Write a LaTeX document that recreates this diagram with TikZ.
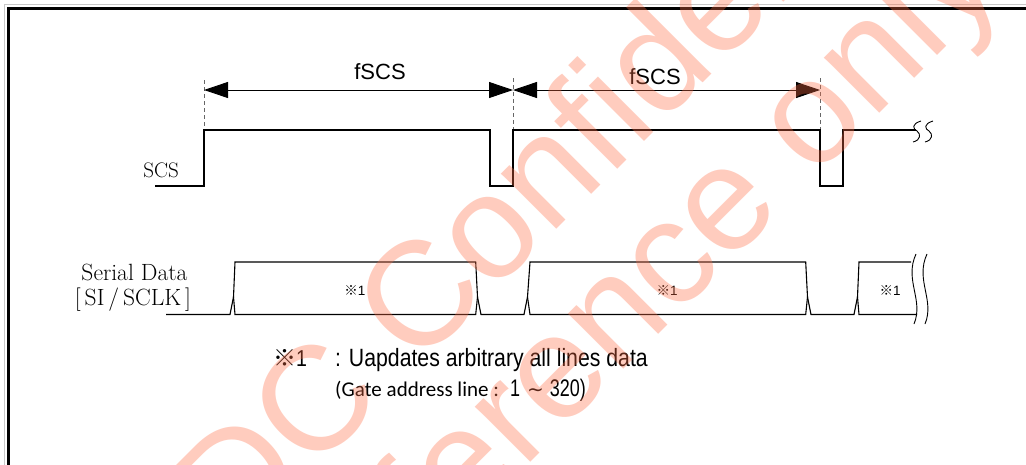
\documentclass[tikz,border=0pt]{standalone}
\usepackage{fontspec}
\usetikzlibrary{arrows.meta}
\newfontfamily\arialf{Liberation Sans}
\newfontfamily\carl{Carlito}
\newfontfamily\cjk{Noto Sans CJK JP}
\newfontfamily\djv{DejaVu Sans}
\definecolor{wmcol}{RGB}{255,110,70}
\definecolor{framegray}{RGB}{200,200,200}
\newcommand{\refmk}{{\cjk ※}{\arialf 1}}
\begin{document}
\begin{tikzpicture}[x=1pt,y=-1pt,
  wave/.style={line width=1.4pt, line join=miter},
  bus/.style={line width=1.1pt, line join=miter},
  guide/.style={black!60, line width=0.8pt, dash pattern=on 4pt off 3pt},
  dimline/.style={line width=0.9pt, {Triangle[length=24pt,width=16pt]}-{Triangle[length=24pt,width=16pt]}},
  brk/.style={line width=0.9pt},
  lbl/.style={inner sep=0pt},
  wm/.style={inner sep=0pt, rotate=45, anchor=base west, text=wmcol, opacity=0.35,
    font=\arialf\fontsize{148}{160}\selectfont}]
\useasboundingbox (0,0) rectangle (1026,464);
\clip (0,0) rectangle (1026,464);
\fill[white] (0,0) rectangle (1026,464);
% frame
\draw[framegray, line width=1pt] (4.5,470) -- (4.5,4.5) -- (1030,4.5);
\draw[line width=3.2pt] (8.5,470) -- (8.5,8.5) -- (1030,8.5);

% key time points
\coordinate (t0) at (204,90);
\coordinate (t1) at (513,90);
\coordinate (t2) at (820,90);

% guides
\draw[guide] (204,80) -- (204,130);
\draw[guide] (513,78) -- (513,130);
\draw[guide] (820,78) -- (820,130);

% dimension arrows
\draw[dimline] (t0) -- (t1);
\draw[dimline] (t1) -- (t2);
\node[lbl, font=\arialf\fontsize{22}{26}\selectfont] (f1) at (380,72) {fSCS};
\node[lbl, font=\arialf\fontsize{22}{26}\selectfont] (f2) at (655,77) {fSCS};

% SCS
\node[lbl, anchor=base east, font=\fontsize{21}{25}\selectfont] (scs) at (179,177) {SCS};
\draw[wave] (155,186) -- (204,186) -- (204,130) -- (490,130) -- (490,186) -- (513,186)
  -- (513,130) -- (820,130) -- (820,186) -- (843,186) -- (843,130) -- (916,130);
\draw[brk] (921,121) .. controls (911,124) and (913,129) .. (917,131) .. controls (921,134) and (921,140) .. (913,142);
\draw[brk] (933,121) .. controls (923,124) and (925,129) .. (929,131) .. controls (933,134) and (933,140) .. (925,142);

% Serial data labels
\node[lbl, anchor=base, font=\fontsize{23.5}{27}\selectfont] (sd1) at (134.5,280) {Serial Data};
\node[lbl, anchor=base, font=\fontsize{23.5}{27}\selectfont] (sd2) at (133,305) {[\,SI\,/\,SCLK\,]};

% bus
\draw[bus] (166,314.5) -- (230,314.5) -- (233.5,297) -- (235,262) -- (475.7,262) -- (477.5,297)
  -- (481,314.5) -- (524,314.5) -- (527.5,297) -- (530,262) -- (805.7,262) -- (807.5,297)
  -- (811,314.5) -- (854,314.5) -- (857.5,297) -- (859,262) -- (911,262);
\draw[bus] (233.5,297) -- (235,314.5) -- (475.7,314.5) -- (477.5,297);
\draw[bus] (527.5,297) -- (530,314.5) -- (805.7,314.5) -- (807.5,297);
\draw[bus] (857.5,297) -- (859,314.5) -- (917,314.5);
\draw[brk] (916,254) .. controls (904,280) and (924,300) .. (914,324);
\draw[brk] (927,254) .. controls (915,280) and (935,300) .. (925,324);

\node[lbl, font=\fontsize{13.5}{15}\selectfont] (d1) at (355,290) {\refmk};
\node[lbl, font=\fontsize{13.5}{15}\selectfont] (d2) at (667,290) {\refmk};
\node[lbl, font=\fontsize{13.5}{15}\selectfont] (d3) at (890,290) {\refmk};

% footnote
\node[lbl, anchor=base west, font=\fontsize{23}{26}\selectfont] (n1) at (273,366) {{\cjk ※}{\arialf\scalebox{0.85}[1]{1}}};
\node[lbl, anchor=base west, font=\arialf\fontsize{25}{28}\selectfont] (n2) at (335,366) {\scalebox{0.85}[1]{: Uapdates arbitrary all lines data}};
\node[lbl, anchor=base west, font=\carl\fontsize{21}{24}\selectfont] (n3) at (335,396) {(Gate address line :};
\node[lbl, anchor=base west, font=\arialf\fontsize{24}{28}\selectfont] (n4) at (510,396)
  {\scalebox{0.75}[1]{1}\hspace{7pt}{\djv\fontsize{20}{24}\selectfont ∼}\hspace{6pt}\scalebox{0.75}[1]{320)}};

% watermark
\node[wm] (wm1) at (183.5,602.5) {JDC Confidential};
\node[wm] (wm2) at (302,691) {Reference only.};
\end{tikzpicture}
\end{document}
